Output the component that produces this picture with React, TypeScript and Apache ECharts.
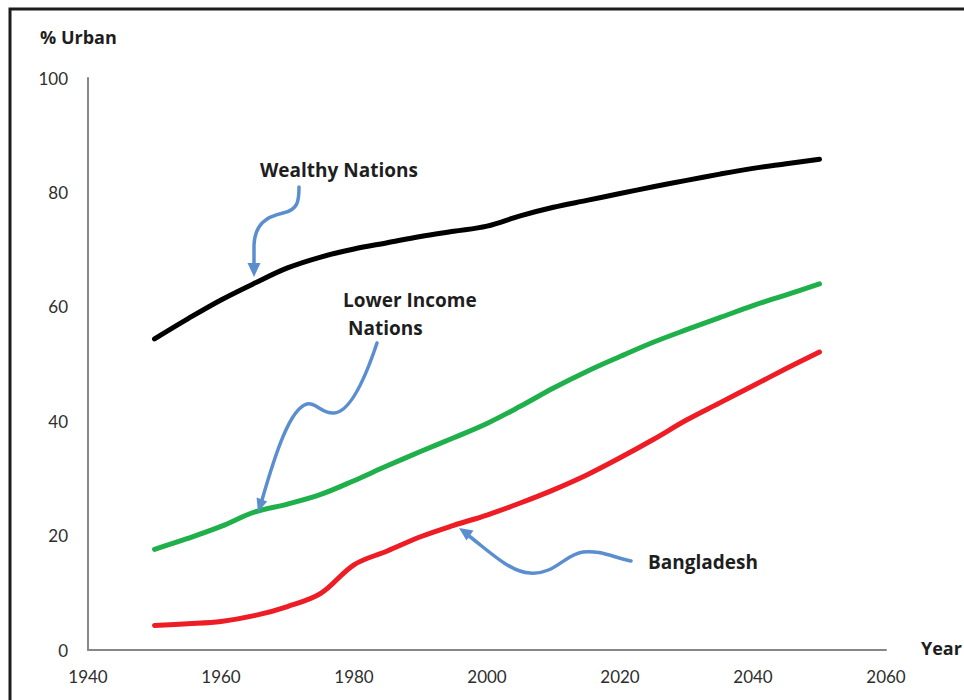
import React, { useEffect, useRef } from "react";
import * as echarts from "echarts";

// Urbanisation, share of population living in urban areas (%), 1950-2050
const years = [
  1950, 1955, 1960, 1965, 1970, 1975, 1980, 1985, 1990, 1995, 2000,
  2005, 2010, 2015, 2020, 2025, 2030, 2035, 2040, 2045, 2050,
];
const wealthyNations = [
  54.4, 57.9, 61.2, 64.1, 66.8, 68.7, 70.1, 71.2, 72.3, 73.2, 74.1,
  75.9, 77.4, 78.6, 79.8, 81.0, 82.1, 83.2, 84.2, 85.0, 85.8,
];
const lowerIncomeNations = [
  17.6, 19.5, 21.6, 24.1, 25.5, 27.2, 29.6, 32.2, 34.7, 37.1, 39.6,
  42.6, 45.8, 48.7, 51.3, 53.8, 56.0, 58.1, 60.2, 62.1, 64.0,
];
const bangladesh = [
  4.3, 4.6, 5.0, 6.0, 7.6, 9.9, 14.9, 17.3, 19.8, 21.8, 23.6,
  25.7, 28.0, 30.6, 33.6, 36.8, 40.2, 43.2, 46.2, 49.2, 52.1,
];

const xTicks = { min: 1940, max: 2060, interval: 20 };
const yTicks = { min: 0, max: 100, interval: 20 };

const TICK_FONT = "Lato, 'Open Sans', sans-serif";
const LABEL_FONT = "'Open Sans', Lato, sans-serif";
const ARROW = "#5a8ecf";

// curvy callout arrows (shafts)
const shafts: Record<string, string> = {
  arrowWealthy: "M299,187 C299,201 298,210 283,213 C265,217 255,225 254,245 L254,265",
  arrowLower: "M377,343 C368,370 352,412 334,413 C322,414 316,402 307,404 C290,408 275,455 262,500",
  arrowBangla: "M631,561 C612,557 600,550 583,552 C565,554 555,575 530,573 C510,572 490,552 469,536",
};
Object.keys(shafts).forEach((name) => {
  echarts.graphic.registerShape(name, echarts.graphic.extendPath(shafts[name], {}) as any);
});

function pair(data: number[]) {
  return years.map((y, i) => [y, data[i]]);
}

export default function App() {
  const ref = useRef<HTMLDivElement>(null);

  useEffect(() => {
    document.body.style.margin = "0";
    if (!ref.current) return;
    const chart = echarts.init(ref.current, undefined, { renderer: "svg" });

    const mkSeries = (name: string, data: number[], color: string) => ({
      name,
      type: "line",
      data: pair(data),
      smooth: 0.35,
      showSymbol: false,
      symbol: "none",
      lineStyle: { color, width: 5, cap: "round", join: "round" },
      z: 2,
    });

    const label = (text: string, x: number, y: number, size = 19) => ({
      type: "text",
      x,
      y,
      style: {
        text,
        font: `bold ${size}px ${LABEL_FONT}`,
        fill: "#1e1e1e",
        textVerticalAlign: "middle",
      },
    });

    const head = (pts: number[][]) => ({
      type: "polygon",
      shape: { points: pts },
      style: { fill: ARROW },
      z: 10,
    });

    const shaft = (name: string) => ({
      type: name,
      x: 0,
      y: 0,
      style: { fill: "none", stroke: ARROW, lineWidth: 3.5, lineCap: "round" },
      z: 10,
    });

    chart.setOption({
      animation: false,
      grid: { left: 88, right: 78, top: 78, bottom: 50, containLabel: false },
      xAxis: {
        type: "value",
        min: xTicks.min,
        max: xTicks.max,
        interval: xTicks.interval,
        axisLine: { show: true, lineStyle: { color: "#878787", width: 2 } },
        axisTick: { show: false },
        splitLine: { show: false },
        axisLabel: {
          color: "#2e2e2e",
          fontSize: 17,
          fontFamily: TICK_FONT,
          margin: 18,
          formatter: (v: number) => String(v),
        },
      },
      yAxis: {
        type: "value",
        min: yTicks.min,
        max: yTicks.max,
        interval: yTicks.interval,
        axisLine: { show: true, lineStyle: { color: "#878787", width: 2 } },
        axisTick: { show: false },
        splitLine: { show: false },
        axisLabel: {
          color: "#2e2e2e",
          fontSize: 17,
          fontFamily: TICK_FONT,
          margin: 20,
        },
      },
      series: [
        mkSeries("Wealthy Nations", wealthyNations, "#000000"),
        mkSeries("Lower Income Nations", lowerIncomeNations, "#20b04b"),
        mkSeries("Bangladesh", bangladesh, "#ee1d25"),
      ],
      graphic: [
        {
          type: "rect",
          shape: { x: 10, y: 9, width: 1200, height: 1000 },
          style: { fill: "none", stroke: "#1c1c1c", lineWidth: 3 },
          silent: true,
        },
        label("% Urban", 40, 37, 18),
        label("Year", 921, 648, 18),
        label("Wealthy Nations", 260, 170),
        label("Lower Income", 343, 300),
        label("Nations", 348, 328),
        label("Bangladesh", 648, 562),
        shaft("arrowWealthy"),
        head([[247.5, 263], [260.5, 263], [254, 277]]),
        shaft("arrowLower"),
        head([[267.2, 501.5], [256.6, 497.5], [258, 512]]),
        shaft("arrowBangla"),
        head([[473.5, 530.5], [466.5, 540.5], [459, 528]]),
      ],
    });

    return () => chart.dispose();
  }, []);

  return <div ref={ref} style={{ width: 964, height: 700 }} />;
}
